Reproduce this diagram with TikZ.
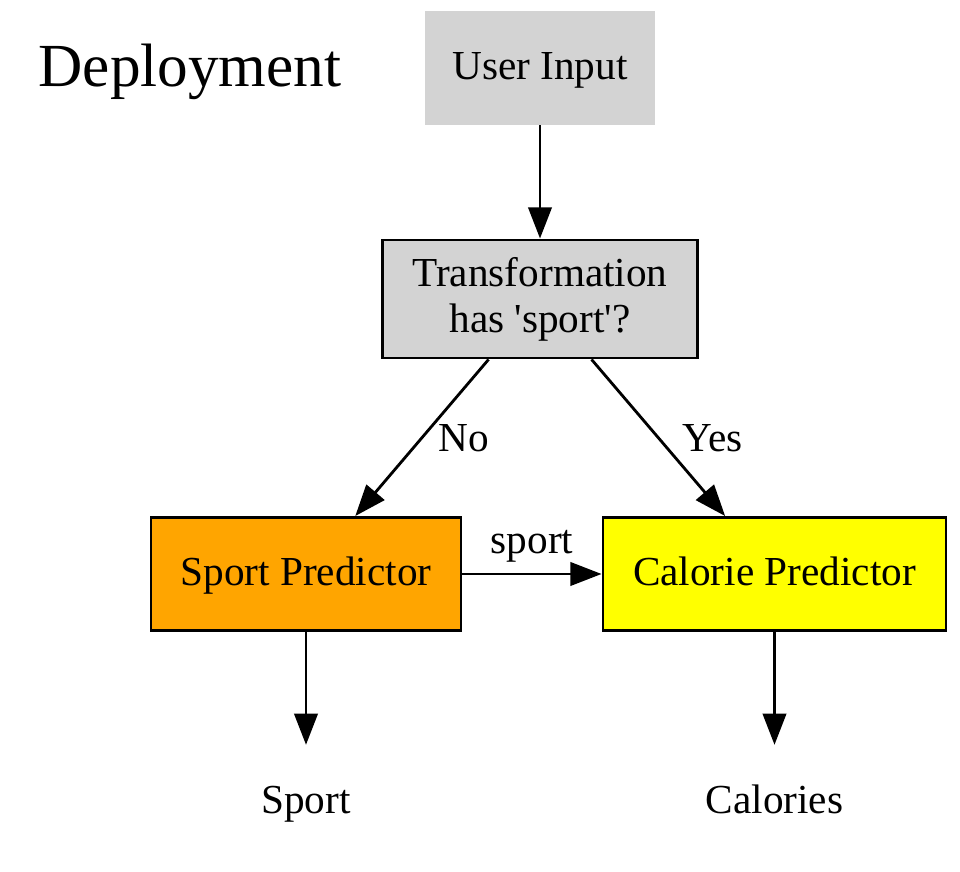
\documentclass[tikz,border=0pt]{standalone}
\usepackage{fontspec}
\setmainfont{Liberation Serif}
\usetikzlibrary{arrows.meta}
\definecolor{boxgray}{HTML}{D3D3D3}
\definecolor{predorange}{HTML}{FFA500}
\definecolor{predyellow}{HTML}{FFFF00}
\tikzset{
  box/.style={rectangle, minimum height=36.2pt, inner sep=0pt, text height=0.85em, text depth=0.1em},
  outtext/.style={minimum height=36.2pt, inner sep=0pt, text height=0.85em, text depth=0.1em},
  flow/.style={->, line width=0.9pt}
}

\begin{document}
\begin{tikzpicture}[x=0.32pt, y=-0.32pt, font=\fontsize{13.2}{14.7}\selectfont,
  >={Triangle[length=10pt,width=7.5pt]}]
\useasboundingbox (0,0) rectangle (960,872);
\node [font=\fontsize{19.6}{22}\selectfont, text height=0.85em, text depth=0.1em] (deploy) at (190,75) {Deployment};
\node [box, fill=boxgray, minimum width=73.9pt] (input) at (540,68) {User Input};
\node [draw, line width=0.9pt, fill=boxgray, minimum width=100.8pt, minimum height=37.8pt, inner sep=0pt, align=center] (trans) at (540,299) {Transformation\\has \textquotesingle sport\textquotesingle ?};
\node [box, draw, line width=0.9pt, fill=predorange, minimum width=99.2pt] (sportpred) at (306,574) {Sport Predictor};
\node [box, draw, line width=0.9pt, fill=predyellow, minimum width=109.8pt] (calpred) at (774.5,574) {Calorie Predictor};
\node [outtext] (sport) at (306,802) {Sport};
\node [outtext] (cal) at (774.5,802) {Calories};
\draw [flow] (input) -- (trans);
\draw [flow] (trans) -- node [right, xshift=1.6pt] {No} (sportpred);
\draw [flow] (trans) -- node [right, xshift=4pt] {Yes} (calpred);
\draw [flow] (sportpred) -- node [above] {sport} (calpred);
\draw [flow] (sportpred) -- (sport);
\draw [flow] (calpred) -- (cal);
\end{tikzpicture}
\end{document}
